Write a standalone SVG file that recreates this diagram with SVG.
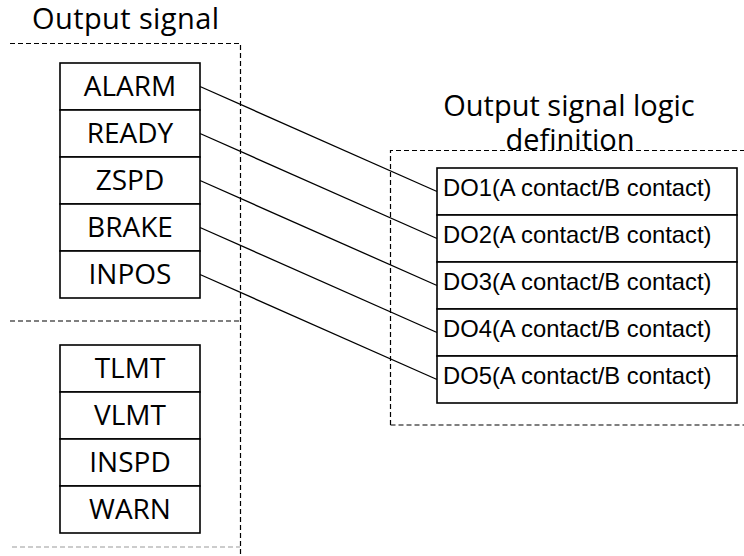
<svg xmlns="http://www.w3.org/2000/svg" width="744" height="556" viewBox="0 0 744 556">
<style>
.bg{fill:#fff}
.dash{fill:none;stroke:#000;stroke-width:1.2;stroke-dasharray:5,3}
.dashg{fill:none;stroke:#999;stroke-width:1.2;stroke-dasharray:5,3}
.cell{fill:#fff;stroke:#000;stroke-width:1.6}
.sig{font-family:"Open Sans","Noto Sans",sans-serif;font-size:28px;fill:#000;text-anchor:middle}
.title{font-family:"Open Sans","Noto Sans",sans-serif;font-size:29px;fill:#000}
.do{font-family:"Liberation Sans",Arial,sans-serif;font-size:23.8px;fill:#000}
.conn{stroke:#000;stroke-width:1.3;fill:none}
</style>
<rect class="bg" x="0" y="0" width="744" height="556"/>
<g id="frames">
<path class="dash" d="M10,43.5 H240.5 V556"/>
<path class="dash" d="M10,321 H240.5"/>
<path class="dashg" d="M12,547 H240"/>
<path class="dash" d="M390.5,425 V150.5 H744"/>
<path class="dash" d="M390.5,425 H744"/>
</g>
<g id="title-output-signal"><text class="title" x="32" y="29" letter-spacing="0.4">Output signal</text></g>
<g id="title-logic">
<text class="title" x="569" y="116" text-anchor="middle">Output signal logic</text>
<text class="title" x="570" y="150" text-anchor="middle">definition</text>
</g>
<g id="connectors">
<line class="conn" x1="200" y1="86.5" x2="437" y2="191.5"/>
<line class="conn" x1="200" y1="133.5" x2="437" y2="238.5"/>
<line class="conn" x1="200" y1="180.5" x2="437" y2="285.5"/>
<line class="conn" x1="200" y1="227.5" x2="437" y2="332.5"/>
<line class="conn" x1="200" y1="274.5" x2="437" y2="379.5"/>
</g>
<g id="ALARM"><rect class="cell" x="60" y="63" width="140" height="47"/><text class="sig" x="130" y="96">ALARM</text></g>
<g id="READY"><rect class="cell" x="60" y="110" width="140" height="47"/><text class="sig" x="130" y="143">READY</text></g>
<g id="ZSPD"><rect class="cell" x="60" y="157" width="140" height="47"/><text class="sig" x="130" y="190">ZSPD</text></g>
<g id="BRAKE"><rect class="cell" x="60" y="204" width="140" height="47"/><text class="sig" x="130" y="237">BRAKE</text></g>
<g id="INPOS"><rect class="cell" x="60" y="251" width="140" height="47"/><text class="sig" x="130" y="284">INPOS</text></g>
<g id="TLMT"><rect class="cell" x="60" y="345" width="140" height="47"/><text class="sig" x="130" y="378">TLMT</text></g>
<g id="VLMT"><rect class="cell" x="60" y="392" width="140" height="47"/><text class="sig" x="130" y="425">VLMT</text></g>
<g id="INSPD"><rect class="cell" x="60" y="439" width="140" height="47"/><text class="sig" x="130" y="472">INSPD</text></g>
<g id="WARN"><rect class="cell" x="60" y="486" width="140" height="47"/><text class="sig" x="130" y="519">WARN</text></g>
<g id="DO1"><rect class="cell" x="437" y="168" width="300" height="47"/><text class="do" x="443" y="196">DO1(A contact/B contact)</text></g>
<g id="DO2"><rect class="cell" x="437" y="215" width="300" height="47"/><text class="do" x="443" y="243">DO2(A contact/B contact)</text></g>
<g id="DO3"><rect class="cell" x="437" y="262" width="300" height="47"/><text class="do" x="443" y="290">DO3(A contact/B contact)</text></g>
<g id="DO4"><rect class="cell" x="437" y="309" width="300" height="47"/><text class="do" x="443" y="337">DO4(A contact/B contact)</text></g>
<g id="DO5"><rect class="cell" x="437" y="356" width="300" height="47"/><text class="do" x="443" y="384">DO5(A contact/B contact)</text></g>
</svg>
